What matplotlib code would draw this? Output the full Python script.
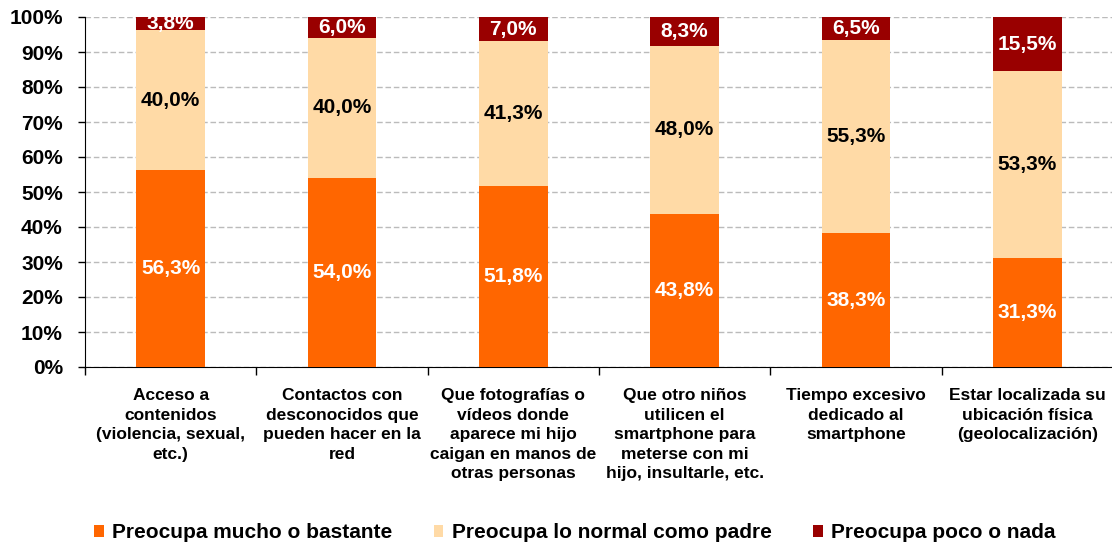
import matplotlib
matplotlib.use("Agg")
import matplotlib.pyplot as plt
import numpy as np

plt.rcParams['font.family'] = ['Liberation Sans', 'DejaVu Sans']

categories = [
    "Acceso a\ncontenidos\n(violencia, sexual,\netc.)",
    "Contactos con\ndesconocidos que\npueden hacer en la\nred",
    "Que fotografías o\nvídeos donde\naparece mi hijo\ncaigan en manos de\notras personas",
    "Que otro niños\nutilicen el\nsmartphone para\nmeterse con mi\nhijo, insultarle, etc.",
    "Tiempo excesivo\ndedicado al\nsmartphone",
    "Estar localizada su\nubicación física\n(geolocalización)",
]
mucho = [56.3, 54.0, 51.8, 43.8, 38.3, 31.3]
normal = [40.0, 40.0, 41.3, 48.0, 55.3, 53.3]
poco = [3.8, 6.0, 7.0, 8.3, 6.5, 15.5]
series_names = ["Preocupa mucho o bastante", "Preocupa lo normal como padre", "Preocupa poco o nada"]
colors = ["#FF6600", "#FFDAA6", "#990000"]
label_colors = ["white", "black", "white"]
yticks = [0, 10, 20, 30, 40, 50, 60, 70, 80, 90, 100]

fig = plt.figure(figsize=(11.12, 5.47), dpi=100)
ax = fig.add_axes([85/1112, (547-367)/547, (1113-85)/1112, 350/547])

x = np.arange(len(categories))
data = np.array([mucho, normal, poco])
totals = data.sum(axis=0)
norm = data / totals * 100
bottom = np.zeros(len(categories))
for i in range(3):
    ax.bar(x, norm[i], 0.4, bottom=bottom, color=colors[i], label=series_names[i], zorder=3)
    for j in range(len(categories)):
        yc = bottom[j] + norm[i][j] / 2
        ax.text(x[j], yc, f"{data[i][j]:.1f}%".replace('.', ','), ha='center', va='center',
                color=label_colors[i], fontsize=15, fontweight='bold', zorder=4)
    bottom += norm[i]

ax.set_xlim(-0.5, len(categories) - 0.5)
ax.set_ylim(0, 100)
ax.set_yticks(yticks)
ax.set_yticklabels([f"{v}%" for v in yticks], fontsize=15, fontweight='bold')
ax.yaxis.grid(True, linestyle=(0, (4, 2)), color='#BBBBBB', linewidth=1, zorder=0)
ax.set_xticks(np.arange(-0.5, len(categories), 1.0))
ax.set_xticklabels([])
ax.tick_params(axis='x', length=6, direction='out', width=1)
ax.tick_params(axis='y', length=5, direction='out', width=1, pad=11)
for j, c in enumerate(categories):
    ax.text(x[j], -6.0, c, ha='center', va='top', fontsize=12.5, fontweight='bold',
            linespacing=1.38, transform=ax.transData)
ax.spines['top'].set_visible(False)
ax.spines['right'].set_visible(False)
ax.spines['left'].set_color('black')
ax.spines['bottom'].set_color('black')

handles, labels = ax.get_legend_handles_labels()
fig.legend(handles, labels, loc='center', bbox_to_anchor=(575/1112, 14/547), ncol=3, frameon=False,
           prop={'weight': 'bold', 'size': 15}, handlelength=0.45, handleheight=0.5,
           handletextpad=0.4, columnspacing=2.0)

fig.savefig("out.png", dpi=100)
